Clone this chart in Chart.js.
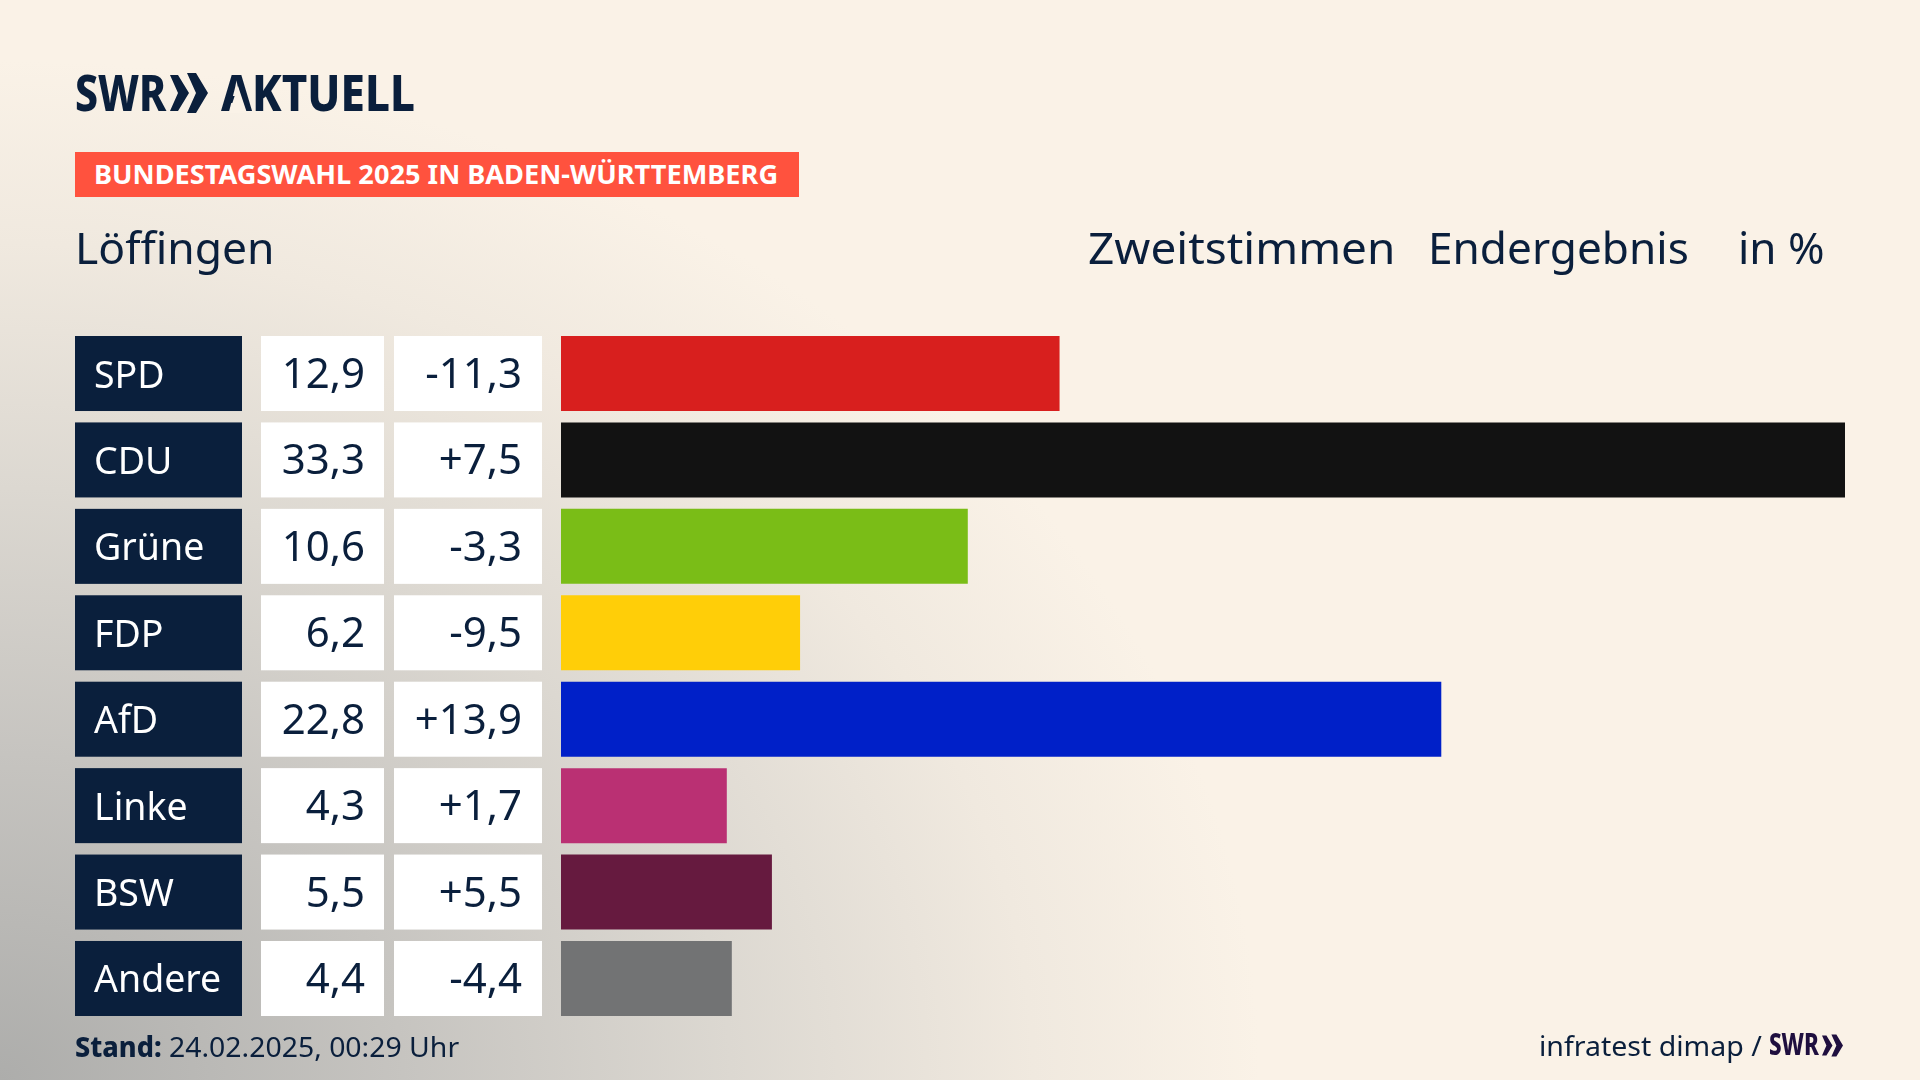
<!DOCTYPE html>
<html lang="de">
<head>
<meta charset="utf-8">
<title>Löffingen Zweitstimmen</title>
<script src="https://cdn.jsdelivr.net/npm/chart.js@4"></script>
<style>
html,body{margin:0;padding:0;width:1920px;height:1080px;overflow:hidden}
body{position:relative;color:#0a1f3c;font-family:"Noto Sans",sans-serif;
  background:radial-gradient(ellipse 1260px 1020px at 0% 100%,#adadab 0%,#c6c4c0 32%,#dcd8d1 58%,#f0e9df 82%,#faf2e7 100%)}
canvas{position:absolute;left:0;top:0}
.t{position:absolute;white-space:nowrap;line-height:1;transform-origin:0 0}
.tag{position:absolute;left:75px;top:152px;width:724px;height:45px;background:#ff523e}
svg{position:absolute}
</style>
</head>
<body>
<canvas id="barChart" width="1920" height="1080"></canvas>

<span class="t" data-w="91" style="left:75px;top:67px;font-size:50px;font-weight:800">SWR</span>
<svg style="left:170px;top:73px" width="38" height="40" viewBox="0 0 38 40" fill="#0a1f3c"><path d="M0 2h8l11 18-11 18H0l8-18zM17 0h9l12 20-12 20h-9l9-20z"/></svg>
<span class="t" data-w="194" style="left:221px;top:67px;font-size:50px;font-weight:800">AKTUELL</span>
<!-- logo A has no crossbar -->
<svg style="left:226px;top:86px" width="24" height="27" viewBox="0 0 24 27" fill="#faf2e7"><path d="M12 0L3 27h18z"/></svg>

<div class="tag"></div>
<span class="t" data-w="684" style="left:94px;top:160px;font-size:27px;font-weight:700;color:#fff">BUNDESTAGSWAHL 2025 IN BADEN-WÜRTTEMBERG</span>

<span class="t" data-w="200" style="left:75px;top:225px;font-size:44px">Löffingen</span>
<span class="t" data-w="307" style="left:1088px;top:225px;font-size:44px">Zweitstimmen</span>
<span class="t" data-w="261" style="left:1428px;top:225px;font-size:44px">Endergebnis</span>
<span class="t" data-w="87" style="left:1738px;top:225px;font-size:44px">in %</span>

<span class="t" data-w="87" style="left:75px;top:1032px;font-size:28px;font-weight:800">Stand:</span>
<span class="t" data-w="290" style="left:169px;top:1032px;font-size:28px">24.02.2025, 00:29 Uhr</span>
<span class="t" data-w="223" style="left:1539px;top:1031px;font-size:28px">infratest dimap /</span>
<span class="t" data-w="50" style="left:1769px;top:1029px;font-size:30px;font-weight:800;color:#1f0f3f">SWR</span>
<svg style="left:1822px;top:1034px" width="21" height="23" viewBox="0 0 38 40" fill="#1f0f3f"><path d="M0 2h8l11 18-11 18H0l8-18zM17 0h9l12 20-12 20h-9l9-20z"/></svg>

<script>
var parties = ['SPD','CDU','Grüne','FDP','AfD','Linke','BSW','Andere'];
// bar lengths as measured, the labels round them to one decimal
var shares = [12.93,33.3,10.55,6.2,22.83,4.3,5.47,4.43];
var changes = [-11.3,7.5,-3.3,-9.5,13.9,1.7,5.5,-4.4];
var barColors = ['#d81f1e','#121212','#7abd17','#ffce08','#0020c8','#ba3073','#661a3f','#727374'];

var navy = '#0a1f3c';

function fmt(v){
    return v.toFixed(1).replace('.',',');
}
function fmtChange(v){
    return (v > 0 ? '+' : '-') + fmt(Math.abs(v));
}

// left side table, rows follow the y scale of the bars
var rowCells = {
    id:'rowCells',
    beforeDatasetsDraw(chart){
        var c = chart.ctx, meta = chart.getDatasetMeta(0);
        c.save();
        c.textBaseline = 'alphabetic';
        parties.forEach((name,i)=>{
            var bar = meta.data[i];
            var top = bar.y - bar.height/2, h = bar.height;
            var base = top + 51.5;
            c.fillStyle = navy;
            c.fillRect(75,top,167,h);
            c.fillStyle = '#fff';
            c.fillRect(261,top,123,h);
            c.fillRect(394,top,148,h);

            c.font = '37.5px "Noto Sans"';
            c.textAlign = 'left';
            c.fillText(name,94,base);
            c.font = '42px "Noto Sans"';
            c.fillStyle = navy;
            c.textAlign = 'right';
            c.fillText(fmt(shares[i]),365,base + 0.5);
            c.fillText(fmtChange(changes[i]),522,base + 0.5);
        });
        c.restore();
    }
};

var ctx = document.getElementById('barChart').getContext('2d');
var barChart = new Chart(ctx,{
    type:'bar',
    data:{
        labels:parties,
        datasets:[{
            label:'Zweitstimmen in %',
            data:shares,
            backgroundColor:barColors,
            borderWidth:0,
            categoryPercentage:1,
            barPercentage:0.868
        }]
    },
    options:{
        indexAxis:'y',
        responsive:false,
        animation:false,
        layout:{padding:{left:561,right:75,top:330.3,bottom:58.3}},
        scales:{
            x:{display:false,min:0,max:33.3},
            y:{display:false}
        },
        plugins:{legend:{display:false},tooltip:{enabled:false}}
    },
    plugins:[rowCells]
});

// squeeze header texts to the widths of the original condensed face
document.querySelectorAll('.t').forEach(el=>{
    var k = Number(el.dataset.w)/el.offsetWidth;
    el.style.transform = 'scaleX(' + k + ')';
});
</script>
</body>
</html>
